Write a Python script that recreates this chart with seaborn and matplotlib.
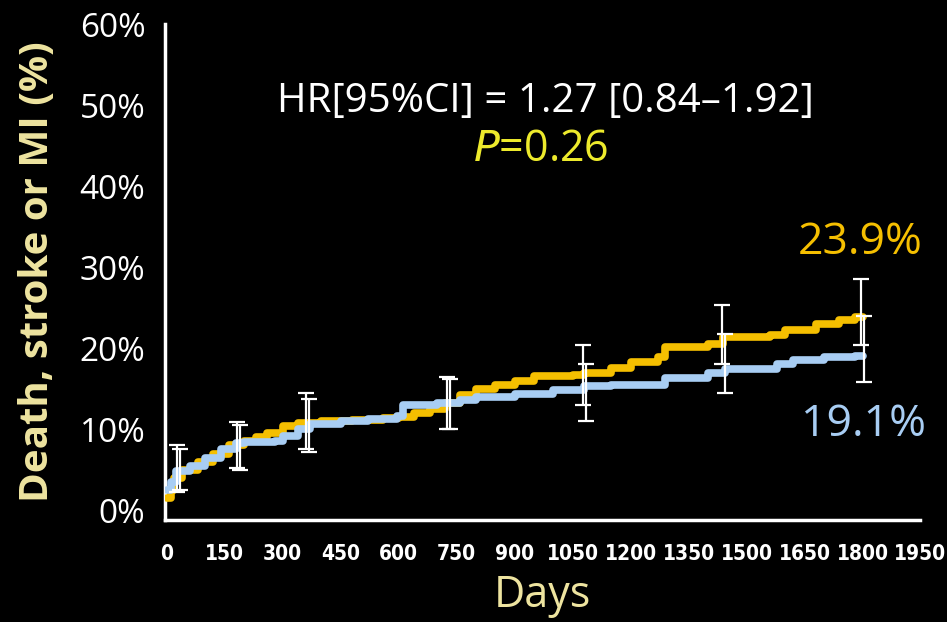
import matplotlib
matplotlib.use("Agg")
import matplotlib.pyplot as plt
import seaborn as sns
import pandas as pd
import numpy as np

# Kaplan-Meier style cumulative incidence (%) by day, two arms
days_gold = [0, 10, 20, 40, 80, 120, 160, 200, 230, 260, 300, 340, 400, 480, 560, 600,
             640, 680, 720, 760, 800, 850, 900, 950, 1050, 1080, 1150, 1200, 1270, 1290,
             1400, 1440, 1560, 1600, 1680, 1740, 1780, 1800]
pct_gold = [1.5, 2.5, 4.0, 5.0, 6.0, 7.0, 8.0, 8.6, 9.0, 9.6, 10.4, 10.8, 11.0, 11.2, 11.4, 11.5,
            12.0, 12.5, 13.3, 14.2, 15.0, 15.5, 16.0, 16.6, 16.7, 17.0, 17.6, 18.3, 18.9, 20.1,
            20.5, 21.4, 21.6, 22.3, 23.0, 23.5, 23.9, 23.9]

days_blue = [0, 10, 25, 60, 100, 140, 180, 200, 280, 300, 340, 370, 450, 520, 597, 610,
             700, 760, 800, 900, 1000, 1080, 1150, 1290, 1400, 1445, 1580, 1620, 1700, 1780, 1800]
pct_blue = [2.5, 3.5, 4.8, 5.5, 6.5, 7.6, 8.3, 8.4, 8.5, 9.2, 10.0, 10.7, 11.0, 11.3, 11.6, 13.0,
            13.2, 13.6, 14.0, 14.3, 14.8, 15.3, 15.5, 16.3, 17.0, 17.5, 18.0, 18.6, 18.9, 19.1, 19.1]

# 95% confidence intervals at landmark days
ci_days = [30, 185, 365, 730, 1080, 1440, 1800]
ci_gold_low = [2.3, 5.2, 7.6, 10.0, 13.0, 18.1, 20.4]
ci_gold_high = [8.0, 10.9, 14.5, 16.5, 20.4, 25.3, 28.6]
ci_blue_low = [2.5, 5.0, 7.2, 10.0, 11.0, 14.5, 15.8]
ci_blue_high = [7.6, 10.5, 13.7, 16.2, 18.0, 21.7, 24.0]

y_ticks = [0, 10, 20, 30, 40, 50, 60]
x_ticks = list(range(0, 1951, 150))
final_gold = 23.9
final_blue = 19.1

GOLD = "#F5BF00"
BLUE = "#A8CDF3"
PALE = "#EEE4A0"

sns.set_theme(style="dark")
plt.rcParams["font.family"] = ["Open Sans", "DejaVu Sans"]

fig = plt.figure(figsize=(9.47, 6.22), dpi=100, facecolor="black")
ax = fig.add_axes([0.174, 0.164, 0.798, 0.797])
ax.set_facecolor("black")

df = pd.concat([
    pd.DataFrame({"day": days_gold, "pct": pct_gold, "arm": "gold"}),
    pd.DataFrame({"day": days_blue, "pct": pct_blue, "arm": "blue"}),
])
sns.lineplot(data=df, x="day", y="pct", hue="arm", palette={"gold": GOLD, "blue": BLUE},
             hue_order=["gold", "blue"], drawstyle="steps-post", linewidth=5.5,
             legend=False, ax=ax, zorder=3)

off = 4
for low, high, shift in [(ci_gold_low, ci_gold_high, -off), (ci_blue_low, ci_blue_high, off)]:
    low = np.array(low)
    high = np.array(high)
    mid = (low + high) / 2
    ax.errorbar(np.array(ci_days) + shift, mid, yerr=[mid - low, high - mid], fmt="none",
                ecolor="white", elinewidth=1.6, capsize=6, capthick=1.6, zorder=4)

ax.set_xlim(-5, 1950)
ax.set_ylim(-1.2, 60)
ax.set_yticks(y_ticks)
ax.set_yticklabels([f"{v}%" for v in y_ticks], color="white", fontsize=24)
ax.set_xticks(x_ticks)
ax.set_xticklabels([str(v) for v in x_ticks], color="white", fontsize=15,
                   family="DejaVu Sans", fontstretch="condensed", fontweight="semibold")
ax.grid(False)
for side in ["top", "right"]:
    ax.spines[side].set_visible(False)
for side in ["left", "bottom"]:
    ax.spines[side].set_visible(True)
    ax.spines[side].set_color("white")
    ax.spines[side].set_linewidth(2.5)
ax.spines["left"].set_bounds(-1.2, 60)
ax.tick_params(axis="y", colors="white", width=2.5, length=12, direction="out", pad=2)
ax.tick_params(axis="x", colors="white", width=2.5, length=11, direction="out", pad=6)

ax.set_xlabel("Days", color=PALE, fontsize=31, labelpad=7)
ax.set_ylabel("Death, stroke or MI (%)", color=PALE, fontsize=29, fontweight="bold")
ax.yaxis.set_label_coords(-0.1425, 0.5)

ax.text(980, 50.4, "HR[95%CI] = 1.27 [0.84\u20131.92]", color="white", fontsize=29,
        ha="center", va="center")
ax.text(967, 44.5, r"$\mathit{P}$=0.26", color="#EDEA2C", fontsize=31,
        ha="center", va="center")
ax.text(1793, final_gold + 9.1, f"{final_gold}%", color=GOLD, fontsize=32,
        ha="center", va="center")
ax.text(1803, final_blue - 8.6, f"{final_blue}%", color=BLUE, fontsize=32,
        ha="center", va="center")

fig.savefig("out.png", dpi=100, facecolor="black")
